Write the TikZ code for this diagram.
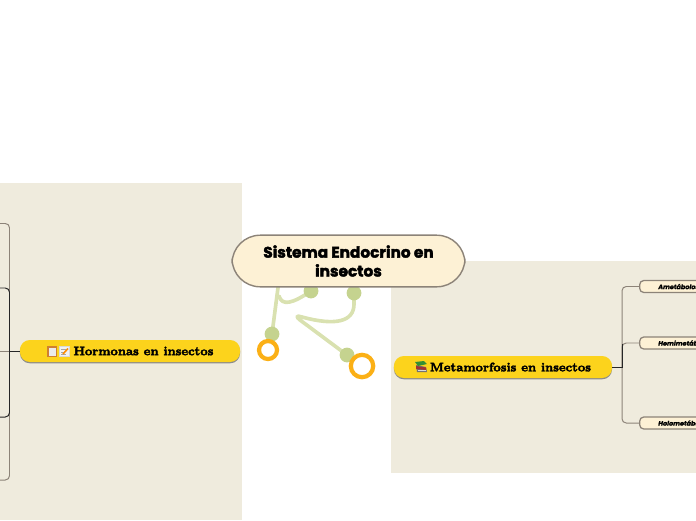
\documentclass[tikz,border=0pt]{standalone}
\usepackage{fontspec}
\usepackage{tikz}
\usetikzlibrary{arrows.meta,calc,positioning,shapes.geometric,shadows}
\newfontfamily\titlefont[BoldFont=Poppins Bold,BoldFeatures={FakeBold=2.5}]{Poppins}
\newfontfamily\slabfont[BoldFeatures={FakeBold=3}]{Latin Modern Roman}
\newfontfamily\leaffont[BoldFont=Poppins Bold,BoldFeatures={FakeBold=1.5},ItalicFont=Poppins Bold Italic,ItalicFeatures={FakeBold=1.5}]{Poppins}
\definecolor{panelbeige}{HTML}{EFEBDD}
\definecolor{creamfill}{HTML}{FDF1D5}
\definecolor{edgegrey}{HTML}{8C8378}
\definecolor{sunyellow}{HTML}{FCD31C}
\definecolor{ringorange}{HTML}{FBB016}
\definecolor{dotgreen}{HTML}{C5D38F}
\definecolor{linegreen}{HTML}{D9E1B0}
\tikzset{
  centro/.style={
    rounded corners=20pt,
    draw=edgegrey,
    line width=1pt,
    fill=creamfill,
    align=center,
    minimum width=5.82cm,
    minimum height=1.29cm,
    font=\fontsize{10.9}{13.4}\titlefont\bfseries
  },
  tema/.style={
    rounded corners=7pt,
    fill=sunyellow,
    copy shadow={shadow xshift=0pt,shadow yshift=-.9pt,fill=black!45,draw=none},
    minimum height=.55cm
  },
  temalabel/.style={inner sep=0pt,font=\fontsize{8.8}{11}\slabfont\bfseries},
  hoja/.style={
    rounded corners=3pt,
    draw=edgegrey,
    line width=.9pt,
    fill=creamfill,
    anchor=west,
    minimum width=2.4cm,
    minimum height=.3cm,
    inner sep=0pt
  },
  hojalabel/.style={anchor=west,inner sep=0pt,font=\fontsize{4.6}{5}\leaffont\itshape},
  punto/.style={circle,fill=dotgreen,inner sep=0pt,minimum size=.37cm},
  anillo/.style={circle,draw=ringorange,fill=white,line width=3pt,inner sep=0pt},
  tallo/.style={linegreen,line width=2.6pt,line cap=round,line join=round},
  rama/.style={edgegrey,line width=.7pt,rounded corners=3pt},
  eje/.style={black!85,line width=.7pt}
}
\begin{document}
\begin{tikzpicture}[x=.025cm,y=-.025cm]
\useasboundingbox (0,0) rectangle (696,520);
% paneles
\fill[panelbeige] (0,183) rectangle (242,520);
\fill[panelbeige] (391,261) rectangle (696,473);
% tallos
\coordinate (t1) at (279,280);
\coordinate (c1) at (272,334);
\coordinate (c2) at (311,291);
\coordinate (c3) at (354,293);
\coordinate (c4) at (347,355);
\draw[tallo] (t1) -- (c1);
\draw[tallo] (279,296) .. controls (282,306) and (292,304) .. (c2);
\draw[tallo] (c3) -- (354,304) .. controls (354,322) and (335,326) .. (302,317)
  .. controls (296,315) and (296,317) .. (300,320) -- (c4);
\node[punto] (d1) at (c1) {};
\node[punto] (d2) at (c2) {};
\node[punto] (d3) at (c3) {};
\node[punto] (d4) at (c4) {};
\node[anillo,minimum size=.45cm] (r1) at (268,350) {};
\node[anillo,minimum size=.56cm] (r2) at (362,366) {};
% nodos
\node[centro] (sistema) at (348.5,261) {Sistema Endocrino en\\insectos};
\node[tema,minimum width=5.5cm] (hormonas) at (130,351) {};
\node[tema,minimum width=5.45cm] (metamorfosis) at (503,367) {};
\node[temalabel] (thormonas) at (143.5,351) {Hormonas en insectos};
\node[temalabel] (tmetamorfosis) at (510.5,367) {Metamorfosis en insectos};
\node[hoja] (ame) at (639,286.5) {};
\node[hoja] (hemi) at (639,343) {};
\node[hoja] (holo) at (639,423) {};
\node[hojalabel] (tame) at (658,286.5) {Ametábolos};
\node[hojalabel] (themi) at (658,343) {Hemimetábolos};
\node[hojalabel] (tholo) at (658,423) {Holometábolos};
% ramas derecha
\coordinate (jr) at (622,367);
\draw[rama] (jr) |- (ame.west);
\draw[rama] (jr) |- (hemi.west);
\draw[rama] (jr) |- (holo.west);
\draw[eje] (metamorfosis.east) -- (jr) -- (622,344);
% ramas izquierda
\coordinate (jl) at (9.5,351);
\coordinate (h1) at (0,223.5);
\coordinate (h2) at (0,288);
\coordinate (h3) at (0,351);
\coordinate (h4) at (0,417);
\coordinate (h5) at (0,480);
\draw[rama] (jl) |- (h1);
\draw[rama] (jl) |- (h5);
\draw[rama] (jl) -- (h3);
\draw[eje,rounded corners=3pt] (jl) |- (h2);
\draw[eje,rounded corners=3pt] (jl) |- (h4);
\draw[eje] (hormonas.west) -- (jl);
% iconos
\fill[brown!75!orange] (47,346) rectangle (57,357);
\fill[white!92!black] (48.5,348) rectangle (55.5,356);
\fill[black!15] (59,346) rectangle (70,357);
\fill[white!95!black] (60,347) rectangle (69,356);
\draw[black!35,line width=.3pt] (61,349.5) -- (66,349.5) (61,352) -- (65,352) (61,354.5) -- (66,354.5);
\draw[orange!90!yellow,line width=1.1pt] (63,354) -- (68,348.5);
\fill[black!55] (416,365) -- (426,367) -- (427,372) -- (417,372) -- cycle;
\fill[red!55!black!80] (416,366) -- (426,367.5) -- (426,370) -- (416,369) -- cycle;
\fill[white!85!black] (418,369.5) rectangle (426,371);
\fill[green!45!black!80] (415,362) -- (424,361) -- (427,364) -- (418,366) -- cycle;
\end{tikzpicture}
\end{document}
